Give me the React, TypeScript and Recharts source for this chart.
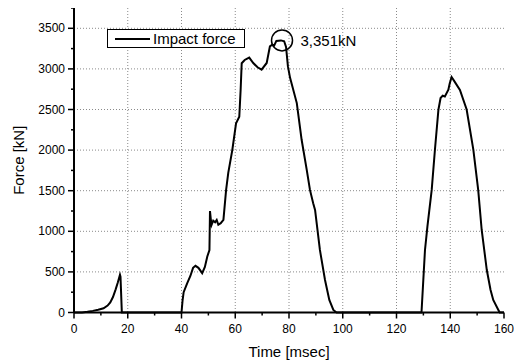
import React from "react";
import {
  LineChart,
  Line,
  XAxis,
  YAxis,
  CartesianGrid,
  Legend,
  ReferenceDot,
} from "recharts";

// impact force record
const time = [
  0, 3, 5, 7, 9, 11, 12.5, 13.5, 14.5, 15.5, 16.3, 17.1, 17.3, 17.8,
  40, 40.4, 40.8, 42.1, 43.3, 44.3, 45.2, 46.3, 47.7, 48.7, 49.6, 50.4, 50.6,
  50.9, 51.2, 51.8, 52.5, 53.1, 53.7, 54.6, 55.6, 56.6, 57.4, 58.9, 60.3,
  61.5, 62.0, 62.4, 63.5, 65.2, 66.7, 68.3, 69.8, 71.7, 72.9, 73.8, 74.5,
  75.3, 77.0, 78.2, 78.9, 79.6, 80.4, 82.9, 84.7, 86.6, 87.8, 89.0, 89.7,
  91.5, 93.4, 95.0, 96.5, 97.7,
  129.3, 130.6, 131.5, 133.1, 134.3, 135.6, 136.4, 137.2, 138.0, 139.3,
  139.8, 140.5, 141.5, 143.6, 146.1, 148.6, 150.4, 151.7, 153.6, 155.0,
  156.0, 157.9, 158.4, 160,
];

const force = [
  0, 0, 8, 20, 35, 52, 85, 125, 190, 285, 370, 465, 440, 0,
  0, 150, 250, 360, 450, 550, 575, 550, 485, 560, 690, 770, 1250,
  1150, 1080, 1130, 1110, 1140, 1080, 1100, 1140, 1510, 1720, 2000, 2330,
  2410, 2740, 3070, 3110, 3140, 3073, 3020, 2990, 3073, 3277, 3300, 3290,
  3345, 3351, 3340, 3270, 3030, 2890, 2579, 2127, 1757, 1510, 1345, 1264,
  770, 400, 154, 31, 0,
  0, 770, 1058, 1510, 2004, 2497, 2641, 2670, 2661, 2743,
  2820, 2900, 2850, 2740, 2500, 2004, 1510, 1016, 523, 277,
  154, 31, 0, 0,
];

const xTicks = [0, 10, 20, 30, 40, 50, 60, 70, 80, 90, 100, 110, 120, 130, 140, 150, 160];
const yTicks = [
  0, 250, 500, 750, 1000, 1250, 1500, 1750, 2000, 2250, 2500, 2750, 3000,
  3250, 3500, 3750,
];
const xGrid = [20, 40, 60, 80, 100, 120, 140];
const yGrid = [500, 1000, 1500, 2000, 2500, 3000, 3500];

const peakTime = 77.4;
const peakForce = 3351;
const peakLabel = "3,351kN";
const seriesName = "Impact force";

const data = time.map((t, i) => ({ time: t, force: force[i] }));

const FONT = "'Liberation Sans', Arial, sans-serif";

const YTick = (props: any) => {
  const { x, y, payload } = props;
  const major = payload.value % 500 === 0;
  return (
    <g>
      <line x1={x - (major ? 6 : 3)} x2={x} y1={y} y2={y} stroke="#000" strokeWidth={1.5} />
      {major && (
        <text x={x - 9} y={y + 4} textAnchor="end" fontSize={12} fontFamily={FONT} fill="#000">
          {payload.value}
        </text>
      )}
    </g>
  );
};

const XTick = (props: any) => {
  const { x, y, payload } = props;
  const major = payload.value % 20 === 0;
  return (
    <g>
      <line x1={x} x2={x} y1={y} y2={y + (major ? 6 : 3)} stroke="#000" strokeWidth={1.5} />
      {major && (
        <text x={x} y={y + 20} textAnchor="middle" fontSize={12} fontFamily={FONT} fill="#000">
          {payload.value}
        </text>
      )}
    </g>
  );
};

const LegendBox = () => (
  <div
    style={{
      border: "1px solid #000",
      background: "#fff",
      width: 136,
      height: 17,
      display: "flex",
      alignItems: "center",
      fontFamily: FONT,
      fontSize: 15,
      lineHeight: "17px",
      boxSizing: "content-box",
    }}
  >
    <svg width={45} height={17}>
      <line x1={7} x2={42} y1={9} y2={9} stroke="#000" strokeWidth={2} />
    </svg>
    <span>{seriesName}</span>
  </div>
);

export default function App() {
  return (
    <div style={{ marginTop: -8, marginLeft: -8, width: 522, height: 363, background: "#fff" }}>
      <LineChart
        width={522}
        height={363}
        data={data}
        margin={{ top: 8, right: 18, left: 0, bottom: 0 }}
      >
        <CartesianGrid
          horizontalValues={yGrid}
          verticalValues={xGrid}
          stroke="#8a8a8a"
          strokeDasharray="1 2"
        />
        <XAxis
          dataKey="time"
          type="number"
          domain={[0, 160]}
          ticks={xTicks}
          interval={0}
          height={50.5}
          tickSize={0}
          tickMargin={0}
          tickLine={false}
          tick={<XTick />}
          axisLine={{ stroke: "#000", strokeWidth: 2 }}
          label={{
            value: "Time [msec]",
            position: "insideBottom",
            offset: 6,
            fill: "#000",
            fontSize: 15,
            fontFamily: FONT,
          }}
        />
        <YAxis
          type="number"
          domain={[0, 3750]}
          ticks={yTicks}
          interval={0}
          width={74}
          tickSize={0}
          tickMargin={0}
          tickLine={false}
          tick={<YTick />}
          axisLine={{ stroke: "#000", strokeWidth: 2 }}
          label={{
            value: "Force [kN]",
            angle: -90,
            position: "insideLeft",
            offset: 19,
            fill: "#000",
            fontSize: 15,
            fontFamily: FONT,
            style: { textAnchor: "middle" },
          }}
        />
        <Legend
          layout="vertical"
          align="center"
          verticalAlign="middle"
          content={<LegendBox />}
          wrapperStyle={{ left: 107, top: 29, width: "auto", height: "auto" }}
        />
        <Line
          type="linear"
          dataKey="force"
          name={seriesName}
          stroke="#000"
          strokeWidth={2}
          dot={false}
          isAnimationActive={false}
        />
        <ReferenceDot
          x={peakTime}
          y={peakForce}
          r={10.5}
          fill="none"
          stroke="#000"
          strokeWidth={1.5}
          label={{
            value: peakLabel,
            position: "right",
            offset: 8,
            fill: "#000",
            fontSize: 15,
            fontFamily: FONT,
          }}
        />
      </LineChart>
    </div>
  );
}
